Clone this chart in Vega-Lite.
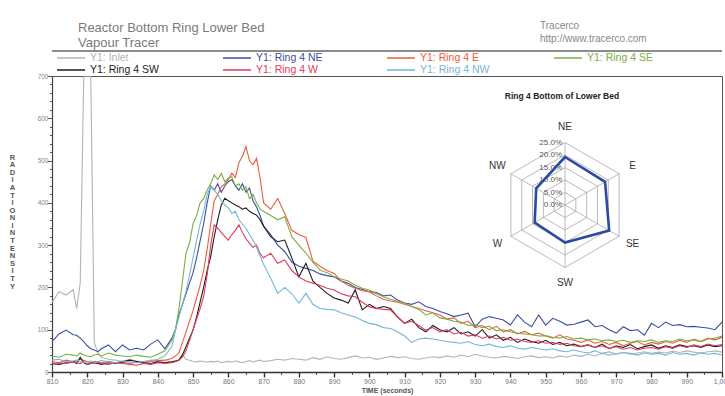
{
  "$schema": "https://vega.github.io/schema/vega-lite/v6.json",
  "width": 670,
  "height": 296,
  "autosize": {"type": "none"},
  "padding": {"left": 52, "top": 76, "right": 3, "bottom": 24},
  "background": "white",
  "config": {
    "view": {"stroke": "#555", "strokeWidth": 1},
    "font": "Liberation Sans",
    "axis": {"labelOverlap": false, "labelSeparation": -80}
  },
  "resolve": {"scale": {"x": "independent", "y": "independent"}},
  "layer": [
    {
      "data": {"values": [
        {"t":810,"inlet":165,"ne":72,"e":25,"se":38,"sw":20,"w":18,"nw":28},
        {"t":812,"inlet":190,"ne":90,"e":22,"se":35,"sw":18,"w":22,"nw":30},
        {"t":814,"inlet":182,"ne":99,"e":28,"se":42,"sw":22,"w":20,"nw":24},
        {"t":816,"inlet":195,"ne":88,"e":24,"se":40,"sw":25,"w":24,"nw":26},
        {"t":817,"inlet":150,"ne":87,"e":26,"se":38,"sw":20,"w":22,"nw":28},
        {"t":818,"inlet":210,"ne":80,"e":30,"se":45,"sw":35,"w":20,"nw":25},
        {"t":819,"inlet":1200,"ne":72,"e":28,"se":40,"sw":22,"w":25,"nw":22},
        {"t":820,"inlet":1400,"ne":62,"e":24,"se":38,"sw":18,"w":18,"nw":24},
        {"t":821,"inlet":1300,"ne":55,"e":22,"se":36,"sw":20,"w":20,"nw":26},
        {"t":822,"inlet":70,"ne":52,"e":25,"se":40,"sw":22,"w":22,"nw":23},
        {"t":823,"inlet":45,"ne":48,"e":24,"se":42,"sw":20,"w":24,"nw":25},
        {"t":824,"inlet":35,"ne":55,"e":22,"se":38,"sw":18,"w":20,"nw":27},
        {"t":826,"inlet":30,"ne":64,"e":25,"se":45,"sw":22,"w":18,"nw":24},
        {"t":828,"inlet":28,"ne":48,"e":22,"se":40,"sw":20,"w":22,"nw":22},
        {"t":830,"inlet":25,"ne":64,"e":24,"se":38,"sw":24,"w":20,"nw":26},
        {"t":832,"inlet":30,"ne":52,"e":20,"se":36,"sw":28,"w":18,"nw":24},
        {"t":834,"inlet":26,"ne":56,"e":23,"se":40,"sw":25,"w":16,"nw":22},
        {"t":836,"inlet":24,"ne":52,"e":21,"se":37,"sw":22,"w":20,"nw":25},
        {"t":838,"inlet":28,"ne":66,"e":25,"se":35,"sw":20,"w":18,"nw":27},
        {"t":840,"inlet":25,"ne":76,"e":27,"se":42,"sw":24,"w":22,"nw":30},
        {"t":842,"inlet":27,"ne":55,"e":28,"se":50,"sw":22,"w":20,"nw":38},
        {"t":844,"inlet":24,"ne":80,"e":32,"se":75,"sw":24,"w":22,"nw":60},
        {"t":845,"inlet":26,"ne":100,"e":38,"se":99,"sw":26,"w":24,"nw":99},
        {"t":846,"inlet":30,"ne":135,"e":45,"se":150,"sw":28,"w":28,"nw":130},
        {"t":847,"inlet":42,"ne":160,"e":70,"se":215,"sw":40,"w":35,"nw":160},
        {"t":848,"inlet":30,"ne":185,"e":95,"se":281,"sw":60,"w":50,"nw":190},
        {"t":849,"inlet":28,"ne":210,"e":120,"se":305,"sw":80,"w":75,"nw":230},
        {"t":850,"inlet":25,"ne":235,"e":145,"se":351,"sw":99,"w":100,"nw":270},
        {"t":851,"inlet":24,"ne":270,"e":175,"se":370,"sw":130,"w":125,"nw":310},
        {"t":852,"inlet":26,"ne":310,"e":205,"se":400,"sw":165,"w":150,"nw":350},
        {"t":853,"inlet":25,"ne":350,"e":240,"se":410,"sw":200,"w":178,"nw":380},
        {"t":854,"inlet":23,"ne":400,"e":290,"se":430,"sw":240,"w":230,"nw":420},
        {"t":855,"inlet":25,"ne":440,"e":350,"se":445,"sw":273,"w":300,"nw":438},
        {"t":856,"inlet":24,"ne":430,"e":405,"se":466,"sw":320,"w":348,"nw":430},
        {"t":857,"inlet":26,"ne":445,"e":420,"se":455,"sw":360,"w":340,"nw":420},
        {"t":858,"inlet":22,"ne":425,"e":438,"se":470,"sw":395,"w":330,"nw":405},
        {"t":859,"inlet":24,"ne":440,"e":445,"se":450,"sw":411,"w":320,"nw":395},
        {"t":860,"inlet":25,"ne":450,"e":455,"se":458,"sw":405,"w":312,"nw":388},
        {"t":861,"inlet":23,"ne":455,"e":470,"se":462,"sw":400,"w":325,"nw":375},
        {"t":862,"inlet":26,"ne":440,"e":460,"se":440,"sw":395,"w":335,"nw":380},
        {"t":863,"inlet":24,"ne":430,"e":495,"se":445,"sw":391,"w":348,"nw":360},
        {"t":864,"inlet":22,"ne":445,"e":510,"se":430,"sw":385,"w":330,"nw":350},
        {"t":865,"inlet":25,"ne":425,"e":533,"se":438,"sw":388,"w":315,"nw":340},
        {"t":866,"inlet":27,"ne":435,"e":500,"se":410,"sw":380,"w":305,"nw":325},
        {"t":867,"inlet":24,"ne":405,"e":490,"se":420,"sw":375,"w":295,"nw":312},
        {"t":868,"inlet":26,"ne":390,"e":505,"se":400,"sw":371,"w":300,"nw":295},
        {"t":869,"inlet":28,"ne":370,"e":460,"se":385,"sw":360,"w":280,"nw":275},
        {"t":870,"inlet":25,"ne":345,"e":400,"se":380,"sw":345,"w":270,"nw":255},
        {"t":872,"inlet":27,"ne":325,"e":385,"se":370,"sw":320,"w":281,"nw":222},
        {"t":874,"inlet":30,"ne":300,"e":410,"se":360,"sw":308,"w":257,"nw":186},
        {"t":876,"inlet":28,"ne":285,"e":375,"se":367,"sw":312,"w":265,"nw":200},
        {"t":878,"inlet":32,"ne":260,"e":335,"se":320,"sw":270,"w":240,"nw":185},
        {"t":880,"inlet":30,"ne":250,"e":325,"se":300,"sw":225,"w":225,"nw":163},
        {"t":882,"inlet":28,"ne":245,"e":318,"se":281,"sw":257,"w":215,"nw":186},
        {"t":884,"inlet":34,"ne":240,"e":262,"se":260,"sw":215,"w":210,"nw":160},
        {"t":886,"inlet":30,"ne":232,"e":250,"se":241,"sw":200,"w":205,"nw":150},
        {"t":888,"inlet":36,"ne":228,"e":240,"se":235,"sw":186,"w":198,"nw":148},
        {"t":890,"inlet":32,"ne":225,"e":233,"se":225,"sw":175,"w":194,"nw":147},
        {"t":892,"inlet":30,"ne":215,"e":215,"se":220,"sw":170,"w":185,"nw":140},
        {"t":894,"inlet":34,"ne":210,"e":205,"se":215,"sw":163,"w":180,"nw":135},
        {"t":896,"inlet":38,"ne":200,"e":198,"se":205,"sw":194,"w":178,"nw":130},
        {"t":898,"inlet":33,"ne":195,"e":192,"se":198,"sw":147,"w":165,"nw":122},
        {"t":900,"inlet":35,"ne":190,"e":190,"se":194,"sw":160,"w":154,"nw":115},
        {"t":902,"inlet":30,"ne":188,"e":180,"se":185,"sw":150,"w":150,"nw":112},
        {"t":904,"inlet":33,"ne":180,"e":172,"se":178,"sw":155,"w":148,"nw":105},
        {"t":906,"inlet":37,"ne":182,"e":168,"se":172,"sw":150,"w":147,"nw":103},
        {"t":908,"inlet":34,"ne":170,"e":165,"se":168,"sw":130,"w":130,"nw":95},
        {"t":910,"inlet":36,"ne":163,"e":160,"se":163,"sw":115,"w":115,"nw":85},
        {"t":912,"inlet":32,"ne":160,"e":155,"se":155,"sw":125,"w":120,"nw":70},
        {"t":914,"inlet":30,"ne":166,"e":150,"se":148,"sw":105,"w":110,"nw":78},
        {"t":916,"inlet":33,"ne":155,"e":145,"se":135,"sw":95,"w":99,"nw":80},
        {"t":918,"inlet":36,"ne":150,"e":140,"se":140,"sw":110,"w":105,"nw":78},
        {"t":920,"inlet":34,"ne":143,"e":135,"se":128,"sw":100,"w":95,"nw":75},
        {"t":922,"inlet":38,"ne":138,"e":125,"se":125,"sw":95,"w":100,"nw":72},
        {"t":924,"inlet":35,"ne":131,"e":128,"se":120,"sw":105,"w":90,"nw":70},
        {"t":926,"inlet":40,"ne":135,"e":115,"se":118,"sw":90,"w":94,"nw":68},
        {"t":928,"inlet":36,"ne":139,"e":120,"se":110,"sw":95,"w":85,"nw":72},
        {"t":930,"inlet":42,"ne":107,"e":105,"se":112,"sw":85,"w":88,"nw":65},
        {"t":932,"inlet":38,"ne":125,"e":110,"se":105,"sw":100,"w":80,"nw":62},
        {"t":934,"inlet":35,"ne":131,"e":100,"se":108,"sw":80,"w":85,"nw":66},
        {"t":936,"inlet":33,"ne":127,"e":108,"se":98,"sw":88,"w":78,"nw":60},
        {"t":938,"inlet":37,"ne":123,"e":95,"se":100,"sw":75,"w":82,"nw":58},
        {"t":940,"inlet":35,"ne":111,"e":100,"se":95,"sw":82,"w":75,"nw":62},
        {"t":942,"inlet":32,"ne":135,"e":90,"se":92,"sw":70,"w":78,"nw":56},
        {"t":944,"inlet":36,"ne":118,"e":96,"se":90,"sw":78,"w":72,"nw":54},
        {"t":946,"inlet":38,"ne":107,"e":88,"se":88,"sw":72,"w":70,"nw":58},
        {"t":948,"inlet":34,"ne":135,"e":92,"se":85,"sw":68,"w":74,"nw":55},
        {"t":950,"inlet":36,"ne":111,"e":85,"se":86,"sw":75,"w":68,"nw":52},
        {"t":952,"inlet":33,"ne":127,"e":80,"se":82,"sw":65,"w":70,"nw":55},
        {"t":954,"inlet":38,"ne":120,"e":88,"se":80,"sw":70,"w":65,"nw":50},
        {"t":956,"inlet":35,"ne":111,"e":78,"se":84,"sw":62,"w":68,"nw":48},
        {"t":958,"inlet":40,"ne":113,"e":75,"se":78,"sw":66,"w":62,"nw":52},
        {"t":960,"inlet":37,"ne":118,"e":70,"se":80,"sw":60,"w":60,"nw":48},
        {"t":962,"inlet":42,"ne":123,"e":76,"se":76,"sw":64,"w":64,"nw":45},
        {"t":964,"inlet":38,"ne":107,"e":68,"se":78,"sw":58,"w":58,"nw":50},
        {"t":966,"inlet":44,"ne":110,"e":72,"se":74,"sw":66,"w":62,"nw":44},
        {"t":968,"inlet":40,"ne":100,"e":65,"se":76,"sw":55,"w":56,"nw":48},
        {"t":970,"inlet":43,"ne":92,"e":70,"se":72,"sw":62,"w":60,"nw":42},
        {"t":972,"inlet":46,"ne":107,"e":62,"se":75,"sw":58,"w":54,"nw":46},
        {"t":974,"inlet":42,"ne":98,"e":68,"se":70,"sw":65,"w":58,"nw":44},
        {"t":976,"inlet":45,"ne":100,"e":72,"se":74,"sw":55,"w":52,"nw":40},
        {"t":978,"inlet":48,"ne":87,"e":64,"se":72,"sw":60,"w":56,"nw":45},
        {"t":980,"inlet":44,"ne":115,"e":70,"se":76,"sw":64,"w":58,"nw":42},
        {"t":982,"inlet":47,"ne":105,"e":66,"se":70,"sw":56,"w":54,"nw":44},
        {"t":984,"inlet":45,"ne":118,"e":72,"se":74,"sw":62,"w":60,"nw":40},
        {"t":986,"inlet":49,"ne":110,"e":68,"se":72,"sw":58,"w":56,"nw":46},
        {"t":988,"inlet":46,"ne":112,"e":75,"se":78,"sw":64,"w":62,"nw":42},
        {"t":990,"inlet":50,"ne":107,"e":70,"se":74,"sw":60,"w":58,"nw":44},
        {"t":992,"inlet":47,"ne":108,"e":78,"se":76,"sw":62,"w":64,"nw":40},
        {"t":994,"inlet":45,"ne":106,"e":72,"se":72,"sw":58,"w":60,"nw":45},
        {"t":996,"inlet":48,"ne":104,"e":80,"se":78,"sw":64,"w":66,"nw":42},
        {"t":998,"inlet":50,"ne":100,"e":76,"se":80,"sw":60,"w":62,"nw":44},
        {"t":1000,"inlet":47,"ne":118,"e":82,"se":85,"sw":62,"w":65,"nw":40}
      ]},
      "transform": [{"fold": ["inlet", "ne", "e", "se", "sw", "w", "nw"], "as": ["series", "value"]}],
      "mark": {"type": "line", "strokeWidth": 1.1, "clip": true},
      "encoding": {
        "x": {
          "field": "t", "type": "quantitative",
          "scale": {"domain": [810, 1000], "nice": false, "zero": false},
          "axis": {
            "title": "TIME (seconds)",
            "titleFontSize": 7, "titleFontWeight": "bold", "titleColor": "#555", "titlePadding": 2,
            "values": [810,815,820,825,830,835,840,845,850,855,860,865,870,875,880,885,890,895,900,905,910,915,920,925,930,935,940,945,950,955,960,965,970,975,980,985,990,995,1000],
            "labelExpr": "datum.value % 10 === 0 ? datum.label : ''",
            "labelFontSize": 7, "labelColor": "#777", "labelFlush": false, "labelPadding": 0,
            "labelOverlap": false, "labelSeparation": -80,
            "tickSize": {"condition": {"test": "datum.value % 10 === 0", "value": 5}, "value": 2.5},
            "tickWidth": {"condition": {"test": "datum.value % 10 === 0", "value": 1.4}, "value": 0.8},
            "tickColor": "#333", "domainColor": "#333", "domainWidth": 1.6,
            "grid": false
          }
        },
        "y": {
          "field": "value", "type": "quantitative",
          "scale": {"domain": [0, 700], "nice": false, "zero": false, "clamp": true},
          "axis": {
            "title": ["R","A","D","I","A","T","I","O","N"," ","I","N","T","E","N","S","I","T","Y"],
            "titleAngle": 0, "titleAlign": "center", "titleBaseline": "top",
            "titleX": -40, "titleY": 77, "titleFontSize": 7.5, "titleLineHeight": 7.6,
            "titleFontWeight": "bold", "titleColor": "#555",
            "values": [0,20,40,60,80,100,120,140,160,180,200,220,240,260,280,300,320,340,360,380,400,420,440,460,480,500,520,540,560,580,600,620,640,660,680,700],
            "labelExpr": "datum.value % 100 === 0 ? datum.label : ''",
            "labelFontSize": 6.5, "labelColor": "#888", "labelPadding": -1,
            "labelOverlap": false, "labelSeparation": -80,
            "tickSize": {"condition": {"test": "datum.value % 100 === 0", "value": 5}, "value": 2.5},
            "tickColor": "#555", "domainColor": "#444", "domainWidth": 1.2,
            "grid": false
          }
        },
        "color": {
          "field": "series", "type": "nominal",
          "scale": {
            "domain": ["inlet", "ne", "e", "se", "sw", "w", "nw"],
            "range": ["#b4b4b4", "#3b4ea3", "#f15a3a", "#78b042", "#1c1c1c", "#e23a5c", "#74b6d8"]
          },
          "legend": {
            "orient": "none", "legendX": 4, "legendY": -24,
            "direction": "horizontal", "columns": 4, "title": null,
            "symbolType": "stroke", "symbolSize": 784, "symbolStrokeWidth": 1.5,
            "clipHeight": 12,
            "labelFontSize": 10.5, "labelFont": "Liberation Sans", "labelOffset": 4,
            "labelExpr": "{'inlet':'Y1: Inlet','ne':'Y1: Ring 4 NE','e':'Y1: Ring 4 E','se':'Y1: Ring 4 SE','sw':'Y1: Ring 4 SW','w':'Y1: Ring 4 W','nw':'Y1: Ring 4 NW'}[datum.label]",
            "labelColor": {"expr": "scale('color', datum.value)"},
            "columnPadding": 63, "rowPadding": 0
          }
        }
      }
    },
    {
      "layer": [
        {
          "data": {"values": [{"k": 1}]},
          "mark": {"type": "rule", "color": "#666", "strokeWidth": 1.3},
          "encoding": {
            "y": {"datum": 0.616, "type": "quantitative", "scale": {"domain": [-0.668, 0.516], "nice": false, "zero": false}, "axis": null}
          }
        },
        {
          "data": {"values": [{"k": 1}]},
          "mark": {"type": "text", "align": "left", "baseline": "top", "fontSize": 13, "color": "#7a7a7a", "lineHeight": 14.5, "font": "Liberation Sans"},
          "encoding": {
            "x": {"datum": -1.948, "type": "quantitative", "scale": {"domain": [-2.052, 0.628], "nice": false, "zero": false}, "axis": null},
            "y": {"datum": 0.732, "type": "quantitative", "scale": {"domain": [-0.668, 0.516], "nice": false, "zero": false}, "axis": null},
            "text": {"value": ["Reactor Bottom Ring Lower Bed", "Vapour Tracer"]}
          }
        },
        {
          "data": {"values": [{"k": 1}]},
          "mark": {"type": "text", "align": "left", "baseline": "top", "fontSize": 10, "color": "#888", "lineHeight": 13, "font": "Liberation Sans"},
          "encoding": {
            "x": {"datum": -0.1, "type": "quantitative", "scale": {"domain": [-2.052, 0.628], "nice": false, "zero": false}, "axis": null},
            "y": {"datum": 0.736, "type": "quantitative", "scale": {"domain": [-0.668, 0.516], "nice": false, "zero": false}, "axis": null},
            "text": {"value": ["Tracerco", "http://www.tracerco.com"]}
          }
        },
        {
          "data": {"values": [
            {"ring": 0}, {"ring": 0.05}, {"ring": 0.1}, {"ring": 0.15}, {"ring": 0.2}, {"ring": 0.25}
          ]},
          "layer": [
            {
              "mark": {"type": "point", "shape": "M0,-1L0.866,-0.5L0.866,0.5L0,1L-0.866,0.5L-0.866,-0.5Z", "filled": false, "color": "#a8a8a8", "strokeWidth": 0.8, "opacity": 1},
              "encoding": {
                "x": {"datum": 0, "type": "quantitative", "scale": {"domain": [-2.052, 0.628], "nice": false, "zero": false}, "axis": null},
                "y": {"datum": 0, "type": "quantitative", "scale": {"domain": [-0.668, 0.516], "nice": false, "zero": false}, "axis": null},
                "size": {"field": "ring", "type": "quantitative", "scale": {"type": "pow", "exponent": 2, "domain": [0, 0.25], "range": [0, 15625]}, "legend": null}
              }
            },
            {
              "mark": {"type": "text", "align": "right", "baseline": "middle", "dx": -3, "fontSize": 8, "color": "#555"},
              "encoding": {
                "x": {"datum": 0, "type": "quantitative", "scale": {"domain": [-2.052, 0.628], "nice": false, "zero": false}, "axis": null},
                "y": {"field": "ring", "type": "quantitative", "scale": {"domain": [-0.668, 0.516], "nice": false, "zero": false}, "axis": null},
                "text": {"field": "ring", "type": "quantitative", "format": ".1%"}
              }
            }
          ]
        },
        {
          "data": {"values": [{"k": 1}]},
          "mark": {"type": "point", "shape": "M0,-1L0,1M0.866,-0.5L-0.866,0.5M0.866,0.5L-0.866,-0.5", "filled": false, "color": "#a8a8a8", "strokeWidth": 0.8, "opacity": 1, "size": 15625},
          "encoding": {
            "x": {"datum": 0, "type": "quantitative", "scale": {"domain": [-2.052, 0.628], "nice": false, "zero": false}, "axis": null},
            "y": {"datum": 0, "type": "quantitative", "scale": {"domain": [-0.668, 0.516], "nice": false, "zero": false}, "axis": null}
          }
        },
        {
          "data": {"values": [
            {"dir": "NE", "pct": 0.192},
            {"dir": "E", "pct": 0.185},
            {"dir": "SE", "pct": 0.204},
            {"dir": "SW", "pct": 0.150},
            {"dir": "W", "pct": 0.140},
            {"dir": "NW", "pct": 0.133}
          ]},
          "transform": [
            {"calculate": "indexof(['NE','E','SE','SW','W','NW'], datum.dir) * PI / 3", "as": "ang"},
            {"calculate": "datum.pct * sin(datum.ang)", "as": "rx"},
            {"calculate": "datum.pct * cos(datum.ang)", "as": "ry"},
            {"calculate": "0.312 * sin(datum.ang)", "as": "lx"},
            {"calculate": "0.312 * cos(datum.ang)", "as": "ly"}
          ],
          "layer": [
            {
              "mark": {"type": "line", "interpolate": "linear-closed", "color": "#2b4aa0", "strokeWidth": 2.6},
              "encoding": {
                "x": {"field": "rx", "type": "quantitative", "scale": {"domain": [-2.052, 0.628], "nice": false, "zero": false}, "axis": null},
                "y": {"field": "ry", "type": "quantitative", "scale": {"domain": [-0.668, 0.516], "nice": false, "zero": false}, "axis": null},
                "order": {"field": "ang", "type": "quantitative"}
              }
            },
            {
              "mark": {"type": "text", "align": "center", "baseline": "middle", "fontSize": 10, "color": "#333"},
              "encoding": {
                "x": {"field": "lx", "type": "quantitative", "scale": {"domain": [-2.052, 0.628], "nice": false, "zero": false}, "axis": null},
                "y": {"field": "ly", "type": "quantitative", "scale": {"domain": [-0.668, 0.516], "nice": false, "zero": false}, "axis": null},
                "text": {"field": "dir"}
              }
            }
          ]
        },
        {
          "data": {"values": [{"k": 1}]},
          "mark": {"type": "text", "align": "center", "baseline": "middle", "fontSize": 8.5, "fontWeight": "bold", "color": "#222"},
          "encoding": {
            "x": {"datum": -0.012, "type": "quantitative", "scale": {"domain": [-2.052, 0.628], "nice": false, "zero": false}, "axis": null},
            "y": {"datum": 0.436, "type": "quantitative", "scale": {"domain": [-0.668, 0.516], "nice": false, "zero": false}, "axis": null},
            "text": {"value": "Ring 4 Bottom of Lower Bed"}
          }
        }
      ]
    }
  ]
}
